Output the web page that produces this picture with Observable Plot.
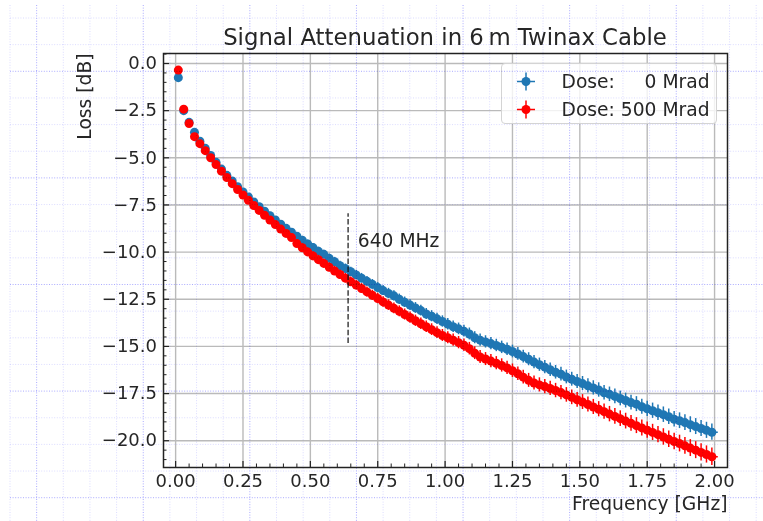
<!DOCTYPE html>
<html>
<head>
<meta charset="utf-8">
<script src="https://cdn.jsdelivr.net/npm/d3@7"></script>
<script src="https://cdn.jsdelivr.net/npm/@observablehq/plot@0.6"></script>
<style>
  body { margin: 0; background: #fff; font-family: "DejaVu Sans", sans-serif; color: #262626; }
  #wrap { position: relative; width: 763px; height: 521px; overflow: hidden; }
  #chart { position: absolute; left: 0; top: 0; }
  #title { position: absolute; left: 163px; width: 564px; top: 26px; text-align: center;
           font-size: 22.8px; line-height: 1; white-space: pre; }
  #legend { position: absolute; left: 500.5px; top: 63px; width: 216px; height: 61px;
            border: 1px solid #d4d4d4; border-radius: 4px; background: rgba(255,255,255,0.8);
            box-sizing: border-box; }
  .lrow { position: absolute; left: 0; height: 26px; width: 100%; }
  .lrow svg { position: absolute; left: 12px; top: 0; }
  .lrow span { position: absolute; left: 60px; top: 1px; font-size: 18.7px; line-height: 24px; white-space: pre; }
  #paper { position: absolute; left: 0; top: 0; pointer-events: none; mix-blend-mode: multiply; }
</style>
</head>
<body>
<div id="wrap">
  <div id="chart"></div>
  <div id="title"></div>
  <div id="legend"></div>
</div>
<script>
// ---------------- data ----------------
const freqGHz = [0.01,0.03,0.05,0.07,0.09,0.11,0.13,0.15,0.17,0.19,0.21,0.23,0.25,0.27,0.29,0.31,0.33,0.35,0.37,0.39,
  0.41,0.43,0.45,0.47,0.49,0.51,0.53,0.55,0.57,0.59,0.61,0.63,0.65,0.67,0.69,0.71,0.73,0.75,0.77,0.79,
  0.81,0.83,0.85,0.87,0.89,0.91,0.93,0.95,0.97,0.99,1.01,1.03,1.05,1.07,1.09,1.11,1.13,1.15,1.17,1.19,
  1.21,1.23,1.25,1.27,1.29,1.31,1.33,1.35,1.37,1.39,1.41,1.43,1.45,1.47,1.49,1.51,1.53,1.55,1.57,1.59,
  1.61,1.63,1.65,1.67,1.69,1.71,1.73,1.75,1.77,1.79,1.81,1.83,1.85,1.87,1.89,1.91,1.93,1.95,1.97,1.99];

const loss0Mrad = [-0.75,-2.50,-3.12,-3.65,-4.12,-4.50,-4.88,-5.24,-5.60,-5.93,-6.23,-6.53,-6.81,-7.08,-7.34,-7.59,-7.83,-8.07,-8.30,-8.52,
  -8.74,-8.95,-9.16,-9.37,-9.57,-9.76,-9.96,-10.12,-10.33,-10.51,-10.72,-10.87,-11.04,-11.21,-11.38,-11.55,-11.71,-11.88,-12.04,-12.19,
  -12.32,-12.50,-12.66,-12.81,-12.96,-13.10,-13.28,-13.40,-13.54,-13.68,-13.82,-13.96,-14.07,-14.19,-14.34,-14.54,-14.67,-14.76,-14.85,-14.95,
  -15.05,-15.15,-15.27,-15.40,-15.54,-15.68,-15.83,-15.97,-16.10,-16.24,-16.37,-16.47,-16.62,-16.74,-16.86,-16.97,-17.09,-17.20,-17.31,-17.46,
  -17.54,-17.65,-17.76,-17.87,-17.98,-18.06,-18.20,-18.31,-18.41,-18.52,-18.62,-18.73,-18.86,-18.94,-19.04,-19.15,-19.25,-19.35,-19.45,-19.55];

const loss500Mrad = [-0.35,-2.42,-3.18,-3.88,-4.25,-4.62,-5.00,-5.36,-5.71,-6.05,-6.37,-6.68,-6.97,-7.25,-7.53,-7.79,-8.05,-8.30,-8.54,-8.78,
  -9.01,-9.23,-9.55,-9.77,-9.99,-10.20,-10.40,-10.60,-10.80,-11.00,-11.19,-11.38,-11.57,-11.75,-11.93,-12.11,-12.29,-12.46,-12.64,-12.81,
  -12.98,-13.14,-13.31,-13.47,-13.64,-13.80,-13.96,-14.11,-14.27,-14.42,-14.54,-14.67,-14.80,-14.94,-15.12,-15.36,-15.56,-15.67,-15.78,-15.89,
  -16.01,-16.14,-16.29,-16.45,-16.63,-16.80,-16.94,-17.04,-17.13,-17.23,-17.34,-17.45,-17.57,-17.70,-17.83,-17.95,-18.08,-18.21,-18.33,-18.46,
  -18.59,-18.71,-18.83,-18.96,-19.08,-19.20,-19.32,-19.44,-19.56,-19.68,-19.80,-19.92,-20.04,-20.15,-20.27,-20.39,-20.50,-20.62,-20.73,-20.85];

const lossRelErr = 0.022; // relative uncertainty of the loss
const freqRelErr = 0.012; // relative uncertainty of the frequency
const seriesLabels = ["Dose:     0 Mrad", "Dose: 500 Mrad"];
const seriesColors = ["#1f77b4", "#ff0000"];
const xTicks = [0, 0.25, 0.5, 0.75, 1.0, 1.25, 1.5, 1.75, 2.0];
const yTicks = [0, -2.5, -5, -7.5, -10, -12.5, -15, -17.5, -20];
const annotFreq = 0.64, annotLow = -14.85, annotHigh = -7.97;
const annotText = "640 MHz", annotTextX = 0.676, annotTextY = -9.4;
const titleText = "Signal Attenuation in 6\u2009m Twinax Cable";
const xLabel = "Frequency [GHz]", yLabel = "Loss [dB]";

// ---------------- layout ----------------
const W = 763, H = 521;
const mL = 163, mR = 36, mT = 53, mB = 54;
const frameW = W - mL - mR, frameH = H - mT - mB;
const xMinor = d3.range(0, 2.001, 0.05).filter(v => Math.abs(v / 0.25 - Math.round(v / 0.25)) > 1e-6);
const yMinor = d3.range(-21, 0.51, 0.5).filter(v => Math.abs(v / 2.5 - Math.round(v / 2.5)) > 1e-6);

const series = [loss0Mrad, loss500Mrad].map((vals, s) =>
  freqGHz.map((f, i) => ({f, v: vals[i], s, ey: Math.abs(vals[i]) * lossRelErr, ex: f * freqRelErr})));

const gray = "#bababa", ink = "#262626";
const seriesMarks = series.flatMap((rows, s) => [
  Plot.ruleX(rows, {x: "f", y1: d => d.v - d.ey, y2: d => d.v + d.ey, stroke: seriesColors[s], strokeWidth: 1.5}),
  Plot.ruleY(rows, {y: "v", x1: d => d.f - d.ex, x2: d => d.f + d.ex, stroke: seriesColors[s], strokeWidth: 1.5}),
  Plot.dot(rows, {x: "f", y: "v", r: 4.5, fill: seriesColors[s], stroke: "none"})
]);

const chart = Plot.plot({
  width: W, height: H,
  marginLeft: mL, marginRight: mR, marginTop: mT, marginBottom: mB,
  x: {domain: [-0.045, 2.048]},
  y: {domain: [-21.42, 0.53]},
  style: {background: "transparent", fontFamily: "DejaVu Sans, sans-serif", fontSize: "18px", color: ink, overflow: "visible"},
  marks: [
    Plot.gridX(xTicks, {stroke: gray, strokeOpacity: 1, strokeWidth: 1.4}),
    Plot.gridY(yTicks, {stroke: gray, strokeOpacity: 1, strokeWidth: 1.4}),
    ...seriesMarks,
    Plot.ruleX([annotFreq], {y1: annotLow, y2: annotHigh, stroke: "#111", strokeWidth: 1.2, strokeDasharray: "5.5,2.4"}),
    Plot.text([annotText], {x: annotTextX, y: annotTextY, textAnchor: "start", lineAnchor: "middle", fontSize: 18.7, fill: ink}),
    Plot.frame({stroke: "#222", strokeWidth: 1.5}),
    Plot.tickX(xTicks, {x: d => d, insetTop: frameH - 6, stroke: "#222", strokeWidth: 1.2}),
    Plot.tickX(xMinor, {x: d => d, insetTop: frameH - 3.5, stroke: "#222", strokeWidth: 1}),
    Plot.tickY(yTicks, {y: d => d, insetRight: frameW - 6, stroke: "#222", strokeWidth: 1.2}),
    Plot.tickY(yMinor, {y: d => d, insetRight: frameW - 3.5, stroke: "#222", strokeWidth: 1}),
    Plot.axisX({ticks: xTicks, tickSize: 0, tickPadding: 7, tickFormat: d3.format(".2f"), label: null, fontSize: 18, fill: ink}),
    Plot.axisY({ticks: yTicks, tickSize: 0, tickPadding: 6.5, tickFormat: d3.format(".1f"), label: null, fontSize: 18, fill: ink}),
    Plot.text([yLabel], {frameAnchor: "top-left", dx: -78, rotate: -90, textAnchor: "end", lineAnchor: "middle", fontSize: 18.7, fill: ink}),
    Plot.text([xLabel], {frameAnchor: "bottom-right", dy: 36.5, textAnchor: "end", lineAnchor: "middle", fontSize: 18.7, fill: ink})
  ]
});
document.getElementById("chart").appendChild(chart);
document.getElementById("title").textContent = titleText;

// ---------------- legend ----------------
const legend = d3.select("#legend");
seriesLabels.forEach((lab, s) => {
  const row = legend.append("div").attr("class", "lrow").style("top", (5 + s * 27.5) + "px");
  const svg = row.append("svg").attr("width", 24).attr("height", 26);
  svg.append("line").attr("x1", 12).attr("x2", 12).attr("y1", 3.5).attr("y2", 21.5)
     .attr("stroke", seriesColors[s]).attr("stroke-width", 1.5);
  svg.append("line").attr("x1", 3).attr("x2", 21).attr("y1", 12.5).attr("y2", 12.5)
     .attr("stroke", seriesColors[s]).attr("stroke-width", 1.5);
  svg.append("circle").attr("cx", 12).attr("cy", 12.5).attr("r", 4.5).attr("fill", seriesColors[s]);
  row.append("span").text(lab);
});

// ---------------- graph-paper backdrop ----------------
const step = 26.65;
const paper = d3.select("#wrap").append("svg").attr("id", "paper").attr("width", W).attr("height", H);
d3.range(0, 29).forEach(k => {
  const x = 10 + k * step, major = k % 4 === 1;
  paper.append("line").attr("x1", x).attr("x2", x).attr("y1", 5).attr("y2", H)
    .attr("stroke", major ? "#8f8fff" : "#c4c4ff").attr("stroke-width", 1)
    .attr("stroke-dasharray", "1,1.6").attr("opacity", major ? 0.75 : 0.6);
});
d3.range(0, 19).forEach(k => {
  const y = 18 + k * step, major = k % 4 === 2;
  paper.append("line").attr("x1", 10).attr("x2", W).attr("y1", y).attr("y2", y)
    .attr("stroke", major ? "#8f8fff" : "#c4c4ff").attr("stroke-width", 1)
    .attr("stroke-dasharray", "1,1.6").attr("opacity", major ? 0.75 : 0.6);
});
</script>
</body>
</html>
